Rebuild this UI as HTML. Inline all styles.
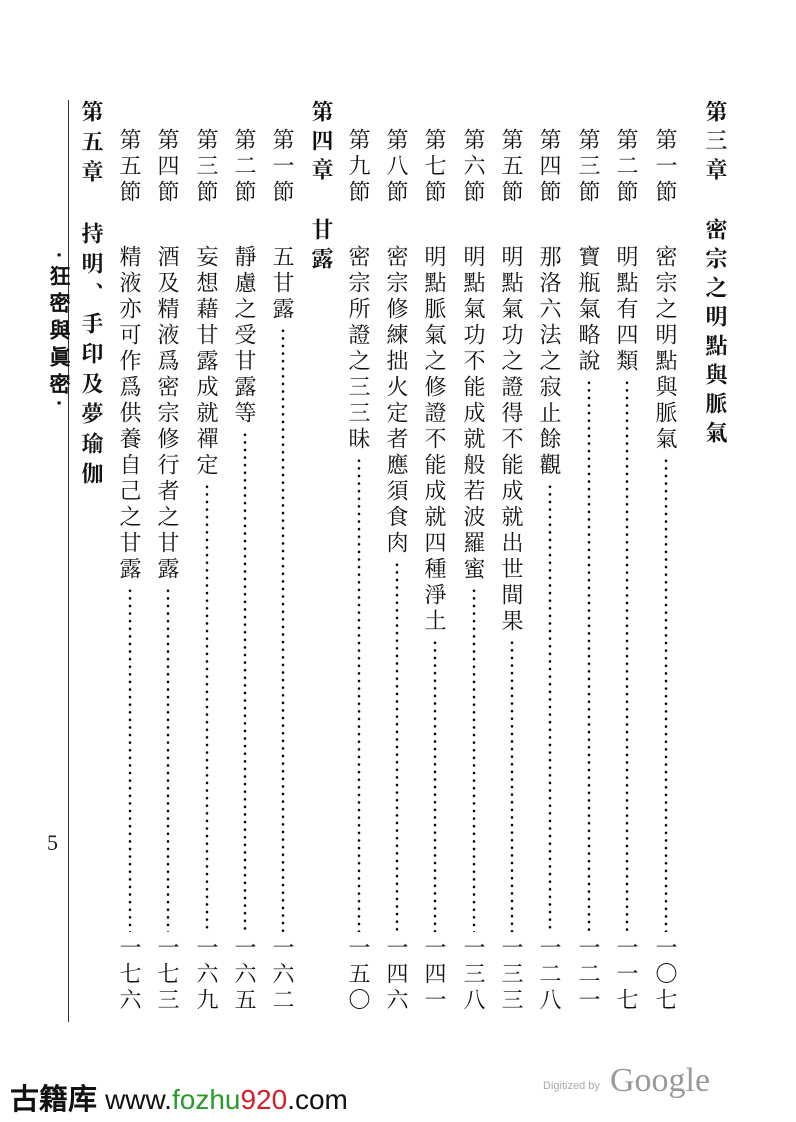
<!DOCTYPE html>
<html><head><meta charset="utf-8"><style>
body{margin:0;width:796px;height:1122px;background:#fff;position:relative;overflow:hidden}
.c{position:absolute;writing-mode:vertical-rl;font-family:"Noto Serif CJK SC","Noto Serif CJK TC",serif;font-size:22px;line-height:26px;letter-spacing:4px;color:#111;white-space:nowrap}
.h{font-weight:bold;letter-spacing:7px}
.col{position:absolute;top:245px;height:687px;width:26px;display:flex;flex-direction:column;align-items:center}
.col span{writing-mode:vertical-rl;font-family:"Noto Serif CJK SC","Noto Serif CJK TC",serif;font-size:22px;line-height:26px;letter-spacing:4px;color:#111;white-space:nowrap}
.d{flex:1;width:4px;margin-top:4px;background-image:radial-gradient(circle,#000 1.1px,transparent 1.5px);background-size:4px 7.6px;background-position:0 0}
.n{position:absolute;top:936px;writing-mode:vertical-rl;font-family:"Noto Serif CJK SC",serif;font-size:22px;line-height:26px;letter-spacing:4px;color:#111}
</style></head><body>
<div class="c h" style="left:703px;top:100px">第三章</div>
<div class="c h" style="left:703px;top:218px">密宗之明點與脈氣</div>
<div class="c h" style="left:309px;top:100px">第四章</div>
<div class="c h" style="left:309px;top:218px">甘露</div>
<div class="c h" style="left:79px;top:100px;letter-spacing:8px">第五章</div>
<div class="c h" style="left:79px;top:222px;letter-spacing:8px">持明、手印及夢瑜伽</div>

<div class="c" style="left:653px;top:128px">第一節</div>
<div class="c" style="left:614px;top:128px">第二節</div>
<div class="c" style="left:576px;top:128px">第三節</div>
<div class="c" style="left:537px;top:128px">第四節</div>
<div class="c" style="left:499px;top:128px">第五節</div>
<div class="c" style="left:461px;top:128px">第六節</div>
<div class="c" style="left:422px;top:128px">第七節</div>
<div class="c" style="left:384px;top:128px">第八節</div>
<div class="c" style="left:346px;top:128px">第九節</div>
<div class="c" style="left:270px;top:128px">第一節</div>
<div class="c" style="left:232px;top:128px">第二節</div>
<div class="c" style="left:194px;top:128px">第三節</div>
<div class="c" style="left:155px;top:128px">第四節</div>
<div class="c" style="left:117px;top:128px">第五節</div>

<div class="col" style="left:653px"><span>密宗之明點與脈氣</span><div class="d"></div></div>
<div class="col" style="left:614px"><span>明點有四類</span><div class="d"></div></div>
<div class="col" style="left:576px"><span>寶瓶氣略說</span><div class="d"></div></div>
<div class="col" style="left:537px"><span>那洛六法之寂止餘觀</span><div class="d"></div></div>
<div class="col" style="left:499px"><span>明點氣功之證得不能成就出世間果</span><div class="d"></div></div>
<div class="col" style="left:461px"><span>明點氣功不能成就般若波羅蜜</span><div class="d"></div></div>
<div class="col" style="left:422px"><span>明點脈氣之修證不能成就四種淨土</span><div class="d"></div></div>
<div class="col" style="left:384px"><span>密宗修練拙火定者應須食肉</span><div class="d"></div></div>
<div class="col" style="left:346px"><span>密宗所證之三三昧</span><div class="d"></div></div>
<div class="col" style="left:270px"><span>五甘露</span><div class="d"></div></div>
<div class="col" style="left:232px"><span>靜慮之受甘露等</span><div class="d"></div></div>
<div class="col" style="left:194px"><span>妄想藉甘露成就禪定</span><div class="d"></div></div>
<div class="col" style="left:155px"><span>酒及精液爲密宗修行者之甘露</span><div class="d"></div></div>
<div class="col" style="left:117px"><span>精液亦可作爲供養自己之甘露</span><div class="d"></div></div>

<div class="n" style="left:653px">一〇七</div>
<div class="n" style="left:614px">一一七</div>
<div class="n" style="left:576px">一二一</div>
<div class="n" style="left:537px">一二八</div>
<div class="n" style="left:499px">一三三</div>
<div class="n" style="left:461px">一三八</div>
<div class="n" style="left:422px">一四一</div>
<div class="n" style="left:384px">一四六</div>
<div class="n" style="left:346px">一五〇</div>
<div class="n" style="left:270px">一六二</div>
<div class="n" style="left:232px">一六五</div>
<div class="n" style="left:194px">一六九</div>
<div class="n" style="left:155px">一七三</div>
<div class="n" style="left:117px">一七六</div>

<div style="position:absolute;left:68px;top:100px;width:1px;height:922px;background:#333"></div>
<div class="c" style="left:45px;top:252px;font-family:'WenQuanYi Zen Hei',sans-serif;font-weight:bold;font-size:21px;line-height:26px;letter-spacing:6px">·狂密與眞密·</div>
<div style="position:absolute;left:47px;top:830px;font-family:'Liberation Serif',serif;font-size:22px;color:#222">5</div>

<div style="position:absolute;left:10px;top:1076px;font-family:'Liberation Sans','WenQuanYi Zen Hei',sans-serif;font-weight:bold;font-size:29px;color:#111;white-space:nowrap">古籍库 <span style="font-weight:normal;font-size:28px">www.</span><span style="color:#2a9a2a;font-weight:normal;font-size:28px">fozhu</span><span style="color:#d0202a;font-weight:normal;font-size:28px">920</span><span style="font-weight:normal;font-size:28px">.com</span></div>
<div style="position:absolute;left:543px;top:1080px;font-family:'Liberation Sans',sans-serif;font-size:11px;color:#aaa">Digitized by</div>
<div style="position:absolute;left:610px;top:1062px;font-family:'Liberation Serif',serif;font-size:34px;color:#999">Google</div>
</body></html>
